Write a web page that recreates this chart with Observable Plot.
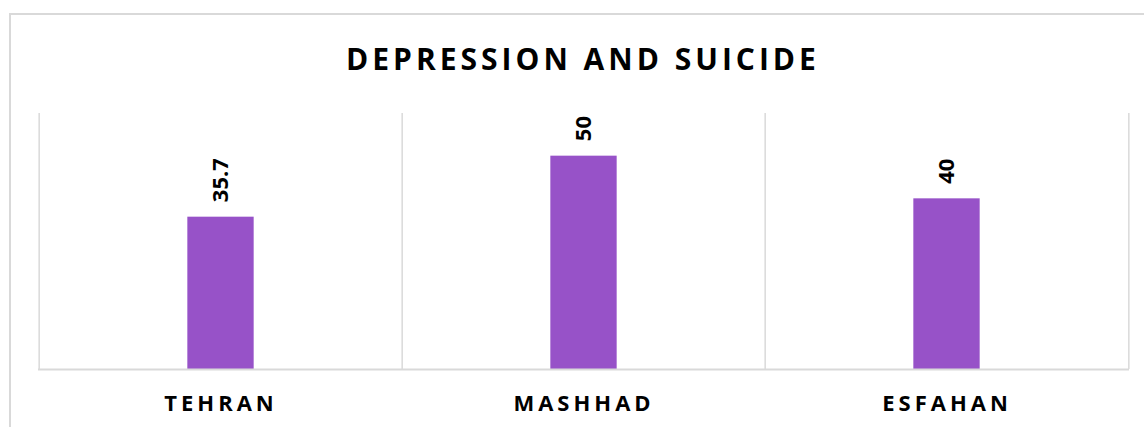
<!DOCTYPE html>
<html>
<head>
<meta charset="utf-8">
<script src="https://cdn.jsdelivr.net/npm/d3@7"></script>
<script src="https://cdn.jsdelivr.net/npm/@observablehq/plot@0.6"></script>
<style>
  html, body { margin: 0; padding: 0; background: #fff; }
  #wrap { position: relative; width: 1144px; height: 427px; overflow: hidden; font-family: "Open Sans", sans-serif; }
  #border { position: absolute; left: 9px; top: 13px; width: 1150px; height: 430px; border: 2px solid #d9d9d9; box-sizing: border-box; }
  #title { position: absolute; left: 0; width: 1166px; top: 44px; text-align: center; font-size: 30px; line-height: 30px; font-weight: 700; letter-spacing: 4px; color: #000; }
  #chart { position: absolute; left: 0; top: 90px; }
</style>
</head>
<body>
<div id="wrap">
  <div id="border"></div>
  <div id="title">DEPRESSION AND SUICIDE</div>
  <div id="chart"></div>
</div>
<script>
const cities = ["TEHRAN", "MASHHAD", "ESFAHAN"];
const values = [35.7, 50, 40];
const labels = ["35.7", "50", "40"];

const data = cities.map((c, i) => ({city: c, value: values[i], label: labels[i]}));

const W = 1144, H = 337;
const mL = 38, mR = 15, mT = 23, mB = 58;
const bw = (W - mL - mR) / cities.length;
const barW = 67;
const inset = (bw - barW) / 2;
const grid = "#d9d9d9";

const chart = Plot.plot({
  width: W,
  height: H,
  marginLeft: mL,
  marginRight: mR,
  marginTop: mT,
  marginBottom: mB,
  style: {fontFamily: "Open Sans, sans-serif", background: "transparent", overflow: "visible"},
  x: {domain: cities, padding: 0, label: null},
  y: {domain: [0, 60], axis: null},
  marks: [
    Plot.ruleX(cities, {x: d => d, dx: -bw / 2, stroke: grid, strokeWidth: 1.5}),
    Plot.ruleX([cities[cities.length - 1]], {x: d => d, dx: bw / 2, stroke: grid, strokeWidth: 1.5}),
    Plot.barY(data, {x: "city", y: "value", fill: "#9752C8", insetLeft: inset, insetRight: inset}),
    Plot.ruleY([0], {stroke: grid, strokeWidth: 2}),
    Plot.text(data, {x: "city", y: "value", text: "label", rotate: -90, textAnchor: "start", dy: -15, fontSize: 22, fontWeight: 700, fill: "#000"}),
    Plot.axisX({tickSize: 0, tickPadding: 26, fontSize: 22, fontWeight: 700, fill: "#000"})
  ]
});
chart.querySelectorAll("g[aria-label='x-axis tick label'] text").forEach(t => {
  t.style.letterSpacing = "4px";
});
document.getElementById("chart").appendChild(chart);
</script>
</body>
</html>
